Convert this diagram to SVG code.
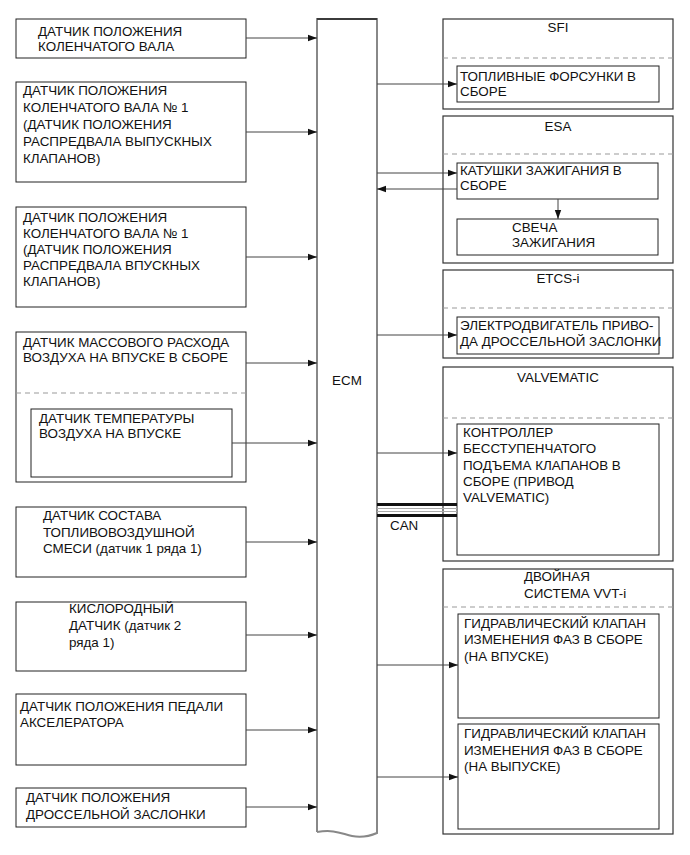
<svg xmlns="http://www.w3.org/2000/svg" width="690" height="855" viewBox="0 0 690 855">
<style>
text{font-family:"Liberation Sans",Arial,sans-serif;font-size:13.4px;fill:#111}
.box{fill:#fff;stroke:#222;stroke-width:1}
.grp{fill:#fff;stroke:#333;stroke-width:1.2}
.dash{stroke:#999;stroke-width:1;stroke-dasharray:5,4;fill:none}
.con{stroke:#444;stroke-width:1;fill:none}
.ecm{fill:#fff;stroke:#888;stroke-width:2}
</style>
<defs>
<marker id="arr" markerUnits="userSpaceOnUse" markerWidth="10" markerHeight="8" refX="9" refY="4" orient="auto">
<path d="M0,0.8 L9,4 L0,7.2 Z" fill="#111"/>
</marker>
</defs>

<g id="ecm">
<path class="ecm" d="M317,832 L317,19 L377,19 L377,833 C370,836 362,838 352,836 C342,834 335,829 317,832"/>
<line x1="317" y1="19" x2="377" y2="19" stroke="#222" stroke-width="1.5"/>
<text x="347" y="385" text-anchor="middle">ECM</text>
</g>

<g id="s1">
<rect class="box" x="16" y="19" width="230" height="39"/>
<text x="38" y="36">ДАТЧИК ПОЛОЖЕНИЯ</text>
<text x="38" y="51">КОЛЕНЧАТОГО ВАЛА</text>
</g>
<g id="s2">
<rect class="box" x="16" y="82" width="230" height="100"/>
<text x="23" y="95">ДАТЧИК ПОЛОЖЕНИЯ</text>
<text x="23" y="112">КОЛЕНЧАТОГО ВАЛА № 1</text>
<text x="23" y="129">(ДАТЧИК ПОЛОЖЕНИЯ</text>
<text x="23" y="146">РАСПРЕДВАЛА ВЫПУСКНЫХ</text>
<text x="23" y="163">КЛАПАНОВ)</text>
</g>
<g id="s3">
<rect class="box" x="16" y="207" width="230" height="100"/>
<text x="23" y="222">ДАТЧИК ПОЛОЖЕНИЯ</text>
<text x="23" y="238">КОЛЕНЧАТОГО ВАЛА № 1</text>
<text x="23" y="254">(ДАТЧИК ПОЛОЖЕНИЯ</text>
<text x="23" y="270">РАСПРЕДВАЛА ВПУСКНЫХ</text>
<text x="23" y="286">КЛАПАНОВ)</text>
</g>
<g id="s4">
<rect class="box" x="16" y="332" width="230" height="150"/>
<text x="23" y="347">ДАТЧИК МАССОВОГО РАСХОДА</text>
<text x="23" y="362">ВОЗДУХА НА ВПУСКЕ В СБОРЕ</text>
<line class="dash" x1="16" y1="393" x2="246" y2="393"/>
<g id="s4a">
<rect class="box" x="31" y="409" width="201" height="68"/>
<text x="39" y="423">ДАТЧИК ТЕМПЕРАТУРЫ</text>
<text x="39" y="438">ВОЗДУХА НА ВПУСКЕ</text>
</g>
</g>
<g id="s5">
<rect class="box" x="16" y="507" width="230" height="70"/>
<text x="43" y="520">ДАТЧИК СОСТАВА</text>
<text x="43" y="537">ТОПЛИВОВОЗДУШНОЙ</text>
<text x="43" y="553">СМЕСИ (датчик 1 ряда 1)</text>
</g>
<g id="s6">
<rect class="box" x="16" y="602" width="230" height="69"/>
<text x="69" y="613">КИСЛОРОДНЫЙ</text>
<text x="69" y="630">ДАТЧИК (датчик 2</text>
<text x="69" y="647">ряда 1)</text>
</g>
<g id="s7">
<rect class="box" x="16" y="694" width="230" height="71"/>
<text x="20" y="711">ДАТЧИК ПОЛОЖЕНИЯ ПЕДАЛИ</text>
<text x="20" y="727">АКСЕЛЕРАТОРА</text>
</g>
<g id="s8">
<rect class="box" x="16" y="788" width="230" height="39"/>
<text x="26" y="802">ДАТЧИК ПОЛОЖЕНИЯ</text>
<text x="26" y="819">ДРОССЕЛЬНОЙ ЗАСЛОНКИ</text>
</g>

<g id="sfi">
<rect class="grp" x="443" y="19" width="230" height="90"/>
<text x="558" y="32" text-anchor="middle">SFI</text>
<line class="dash" x1="443" y1="58" x2="673" y2="58"/>
<rect class="box" x="457" y="66" width="202" height="36"/>
<text x="460" y="81">ТОПЛИВНЫЕ ФОРСУНКИ В</text>
<text x="460" y="96">СБОРЕ</text>
</g>
<g id="esa">
<rect class="grp" x="443" y="116" width="230" height="147"/>
<text x="558" y="131" text-anchor="middle">ESA</text>
<line class="dash" x1="443" y1="154" x2="673" y2="154"/>
<rect class="box" x="457" y="163" width="201" height="36"/>
<text x="460" y="175">КАТУШКИ ЗАЖИГАНИЯ В</text>
<text x="460" y="190">СБОРЕ</text>
<rect class="box" x="457" y="219" width="201" height="36"/>
<text x="512" y="232">СВЕЧА</text>
<text x="512" y="247">ЗАЖИГАНИЯ</text>
</g>
<g id="etcs">
<rect class="grp" x="443" y="270" width="230" height="88"/>
<text x="558" y="283" text-anchor="middle">ETCS-i</text>
<line class="dash" x1="443" y1="308" x2="673" y2="308"/>
<rect class="box" x="457" y="317" width="202" height="37"/>
<text x="460" y="330">ЭЛЕКТРОДВИГАТЕЛЬ ПРИВО-</text>
<text x="460" y="346">ДА ДРОССЕЛЬНОЙ ЗАСЛОНКИ</text>
</g>
<g id="valvematic">
<rect class="grp" x="443" y="367" width="230" height="194"/>
<text x="558" y="382" text-anchor="middle">VALVEMATIC</text>
<line class="dash" x1="443" y1="418" x2="673" y2="418"/>
<rect class="box" x="457" y="424" width="202" height="131"/>
<text x="463" y="437">КОНТРОЛЛЕР</text>
<text x="463" y="453">БЕССТУПЕНЧАТОГО</text>
<text x="463" y="470">ПОДЪЕМА КЛАПАНОВ В</text>
<text x="463" y="486">СБОРЕ (ПРИВОД</text>
<text x="463" y="502">VALVEMATIC)</text>
</g>
<g id="vvti">
<rect class="grp" x="443" y="569" width="230" height="265"/>
<text x="524" y="581">ДВОЙНАЯ</text>
<text x="524" y="598">СИСТЕМА VVT-i</text>
<line class="dash" x1="443" y1="607" x2="673" y2="607"/>
<rect class="box" x="458" y="614" width="201" height="104"/>
<text x="464" y="628">ГИДРАВЛИЧЕСКИЙ КЛАПАН</text>
<text x="464" y="644">ИЗМЕНЕНИЯ ФАЗ В СБОРЕ</text>
<text x="464" y="661">(НА ВПУСКЕ)</text>
<rect class="box" x="458" y="724" width="201" height="105"/>
<text x="464" y="738">ГИДРАВЛИЧЕСКИЙ КЛАПАН</text>
<text x="464" y="755">ИЗМЕНЕНИЯ ФАЗ В СБОРЕ</text>
<text x="464" y="771">(НА ВЫПУСКЕ)</text>
</g>

<g id="can">
<rect x="377" y="503" width="80" height="3" fill="#111"/>
<rect x="377" y="514" width="80" height="3" fill="#111"/>
<line x1="377" y1="508.5" x2="457" y2="508.5" stroke="#aaa" stroke-width="1"/>
<line x1="377" y1="511.5" x2="457" y2="511.5" stroke="#aaa" stroke-width="1"/>
<text x="390" y="530">CAN</text>
</g>

<g id="connectors">
<line class="con" x1="246" y1="38" x2="317" y2="38" marker-end="url(#arr)"/>
<line class="con" x1="246" y1="132" x2="317" y2="132" marker-end="url(#arr)"/>
<line class="con" x1="246" y1="257" x2="317" y2="257" marker-end="url(#arr)"/>
<line class="con" x1="246" y1="363" x2="317" y2="363" marker-end="url(#arr)"/>
<line class="con" x1="232" y1="443" x2="317" y2="443" marker-end="url(#arr)"/>
<line class="con" x1="246" y1="542" x2="317" y2="542" marker-end="url(#arr)"/>
<line class="con" x1="246" y1="635" x2="317" y2="635" marker-end="url(#arr)"/>
<line class="con" x1="246" y1="730" x2="317" y2="730" marker-end="url(#arr)"/>
<line class="con" x1="246" y1="807" x2="317" y2="807" marker-end="url(#arr)"/>
<line class="con" x1="377" y1="84" x2="457" y2="84" marker-end="url(#arr)"/>
<line class="con" x1="377" y1="173" x2="457" y2="173" marker-end="url(#arr)"/>
<line class="con" x1="457" y1="189" x2="377" y2="189" marker-end="url(#arr)"/>
<line class="con" x1="558" y1="199" x2="558" y2="219" marker-end="url(#arr)"/>
<line class="con" x1="377" y1="335" x2="457" y2="335" marker-end="url(#arr)"/>
<line class="con" x1="377" y1="453" x2="457" y2="453" marker-end="url(#arr)"/>
<line class="con" x1="377" y1="665" x2="458" y2="665" marker-end="url(#arr)"/>
<line class="con" x1="377" y1="777" x2="458" y2="777" marker-end="url(#arr)"/>
</g>
</svg>
